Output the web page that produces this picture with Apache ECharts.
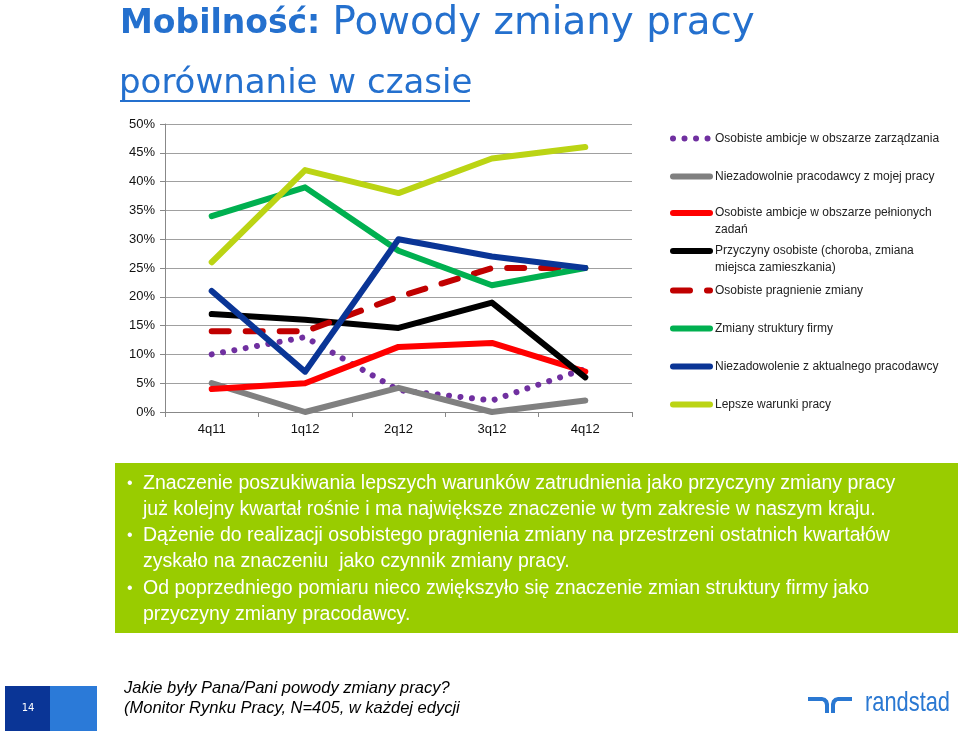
<!DOCTYPE html>
<html><head><meta charset="utf-8">
<script src="https://cdn.jsdelivr.net/npm/echarts@6/dist/echarts.min.js"></script>
<style>html,body{margin:0;padding:0;background:#fff}#c{width:960px;height:733px}</style>
</head><body><div id="c"></div>
<script>
// ---- data ----
const categories = ['4q11', '1q12', '2q12', '3q12', '4q12'];
const seriesNames = [
  'Osobiste ambicje w obszarze zarządzania',
  'Niezadowolnie pracodawcy z mojej pracy',
  'Osobiste ambicje w obszarze pełnionych\nzadań',
  'Przyczyny osobiste (choroba, zmiana\nmiejsca zamieszkania)',
  'Osobiste pragnienie zmiany',
  'Zmiany struktury firmy',
  'Niezadowolenie z aktualnego pracodawcy',
  'Lepsze warunki pracy'
];
const ambicjeZarzadzanie   = [10, 13, 3.8, 2, 7.5];
const niezadowolniePracod  = [5, 0, 4.2, 0, 2];
const ambicjeZadania       = [4, 5, 11.3, 12, 7];
const przyczynyOsobiste    = [17, 16, 14.6, 19, 6];
const pragnienieZmiany     = [14, 14, 20, 25, 25];
const zmianyStruktury      = [34, 39, 28, 22, 25];
const niezadowolenieAktual = [21, 7, 30, 27, 25];
const lepszeWarunki        = [26, 42, 38, 44, 46];
const yTicks = [0, 5, 10, 15, 20, 25, 30, 35, 40, 45, 50];

const bulletTexts = [
  'Znaczenie poszukiwania lepszych warunków zatrudnienia jako przyczyny zmiany pracy\njuż kolejny kwartał rośnie i ma największe znaczenie w tym zakresie w naszym kraju.',
  'Dążenie do realizacji osobistego pragnienia zmiany na przestrzeni ostatnich kwartałów\nzyskało na znaczeniu  jako czynnik zmiany pracy.',
  'Od poprzedniego pomiaru nieco zwiększyło się znaczenie zmian struktury firmy jako\nprzyczyny zmiany pracodawcy.'
];
const footerText = 'Jakie były Pana/Pani powody zmiany pracy?\n(Monitor Rynku Pracy, N=405, w każdej edycji';

// ---- styles ----
const allData = [ambicjeZarzadzanie, niezadowolniePracod, ambicjeZadania, przyczynyOsobiste,
  pragnienieZmiany, zmianyStruktury, niezadowolenieAktual, lepszeWarunki];
const colors = ['#7030A0', '#808080', '#FF0000', '#000000', '#C00000', '#00B050', '#0A3596', '#BBD414'];
const widths = [6, 6, 6, 6, 6, 6, 6, 6];
const dashes = [[0.01, 11.5], 'solid', 'solid', 'solid', [17, 17], 'solid', 'solid', 'solid'];
const legendY = [137, 175, 213, 251, 289, 327, 365, 403];
const BLUE = '#2470CE';
const LOGO = '#2A78D2';

const series = seriesNames.map((n, i) => ({
  name: n, type: 'line', data: allData[i], showSymbol: false, symbol: 'none',
  lineStyle: { color: colors[i], width: widths[i], type: dashes[i], cap: 'round', join: 'round' },
  itemStyle: { color: colors[i] },
  emphasis: { disabled: true }, z: 2 + i
}));

const legends = seriesNames.map((n, i) => {
  const two = n.indexOf('\n') >= 0;
  return {
    data: [n], left: 670, top: two ? legendY[i] - 25.5 : legendY[i] - 7,
    orient: 'vertical', itemWidth: 37, itemHeight: 14, itemGap: 0, padding: 0,
    selectedMode: false,
    formatter: two ? (name => ' \n' + name) : undefined,
    itemStyle: { opacity: 0 },
    textStyle: { fontFamily: 'Liberation Sans', fontSize: 12, color: '#222', lineHeight: 17 },
    lineStyle: { width: 6 }
  };
});

function hook(mirror) {
  // randstad logo half: top bar with a rounded stem going down
  const pts = [[0, 0], [14, 0], [17.5, 1], [20, 3.5], [21, 7], [21, 16], [17, 16], [17, 8], [16.3, 5.5], [14.5, 4], [12, 4], [0, 4]];
  return pts.map(p => mirror ? [852 - p[0], 697 + p[1]] : [808 + p[0], 697 + p[1]]);
}

const chart = echarts.init(document.getElementById('c'), null, { renderer: 'canvas' });
chart.setOption({
  animation: false,
  backgroundColor: '#fff',
  grid: { left: 165, right: 328, top: 124, bottom: 321, containLabel: false },
  legend: legends,
  xAxis: {
    type: 'category', data: categories, boundaryGap: true,
    axisLine: { lineStyle: { color: '#888', width: 1 } },
    axisTick: { show: true, length: 5, lineStyle: { color: '#888' } },
    axisLabel: { fontFamily: 'Liberation Sans', fontSize: 13, color: '#111', margin: 11 }
  },
  yAxis: {
    type: 'value', min: yTicks[0], max: yTicks[yTicks.length - 1], interval: 5,
    axisLine: { show: true, lineStyle: { color: '#888', width: 1 } },
    axisTick: { show: true, length: 5, lineStyle: { color: '#888' } },
    splitLine: { lineStyle: { color: '#A0A0A0', width: 1 } },
    axisLabel: { formatter: '{value}%', fontFamily: 'Liberation Sans', fontSize: 13, color: '#111', margin: 10 }
  },
  series: series,
  graphic: [
    { type: 'text', x: 120, y: 24, style: {
      text: '{b|Mobilność:} {r|Powody zmiany pracy}', verticalAlign: 'middle',
      rich: {
        b: { fontFamily: 'DejaVu Sans', fontWeight: 'bold', fontSize: 33, fill: BLUE },
        r: { fontFamily: 'DejaVu Sans', fontSize: 38.8, fill: BLUE }
      }, fill: BLUE, fontFamily: 'DejaVu Sans', fontSize: 38 } },
    { type: 'text', x: 119, y: 84, style: { text: 'porównanie w czasie', fontFamily: 'DejaVu Sans', fontSize: 34, fill: BLUE, verticalAlign: 'middle' } },
    { type: 'line', shape: { x1: 120, y1: 101, x2: 470, y2: 101 }, style: { stroke: BLUE, lineWidth: 2 } },
    { type: 'rect', shape: { x: 115, y: 463, width: 843, height: 170 }, style: { fill: '#99CC00' } },
    { type: 'text', x: 127, y: 484, style: { text: '•', fontFamily: 'Liberation Sans', fontSize: 16, fill: '#fff', verticalAlign: 'middle' } },
    { type: 'text', x: 127, y: 536, style: { text: '•', fontFamily: 'Liberation Sans', fontSize: 16, fill: '#fff', verticalAlign: 'middle' } },
    { type: 'text', x: 127, y: 589, style: { text: '•', fontFamily: 'Liberation Sans', fontSize: 16, fill: '#fff', verticalAlign: 'middle' } },
    { type: 'text', x: 143, y: 471, style: { text: bulletTexts[0], fontFamily: 'Liberation Sans', fontSize: 19.5, lineHeight: 26, fill: '#fff' } },
    { type: 'text', x: 143, y: 523, style: { text: bulletTexts[1], fontFamily: 'Liberation Sans', fontSize: 19.5, lineHeight: 26, fill: '#fff' } },
    { type: 'text', x: 143, y: 576, style: { text: bulletTexts[2], fontFamily: 'Liberation Sans', fontSize: 19.5, lineHeight: 26, fill: '#fff' } },
    { type: 'rect', shape: { x: 5, y: 686, width: 45, height: 45 }, style: { fill: '#0A3596' } },
    { type: 'rect', shape: { x: 50, y: 686, width: 47, height: 45 }, style: { fill: '#2B7AD8' } },
    { type: 'text', x: 28, y: 708, style: { text: '14', fontFamily: 'DejaVu Sans', fontSize: 10, fill: '#fff', align: 'center', verticalAlign: 'middle' } },
    { type: 'text', x: 124, y: 679, style: { text: footerText, fontFamily: 'Liberation Sans', fontStyle: 'italic', fontSize: 16.5, lineHeight: 19.5, fill: '#000' } },
    { type: 'text', x: 865, y: 703, scaleX: 0.78, style: { text: 'randstad', fontFamily: 'Liberation Sans', fontSize: 28, fill: LOGO, verticalAlign: 'middle' } },
    { type: 'polygon', shape: { points: hook(false) }, style: { fill: LOGO } },
    { type: 'polygon', shape: { points: hook(true) }, style: { fill: LOGO } }
  ]
});
</script></body></html>
